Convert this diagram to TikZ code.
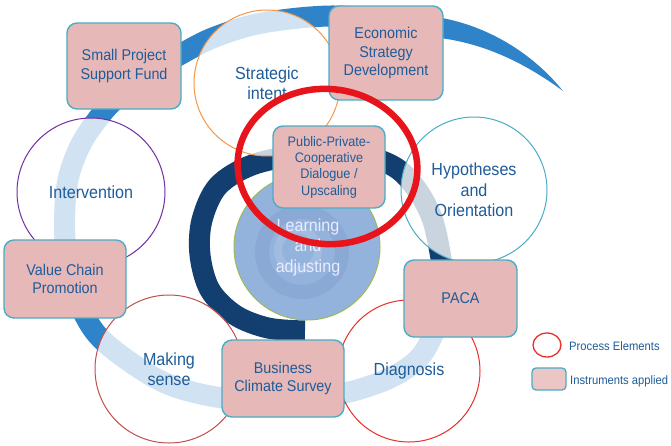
\documentclass[tikz,border=0pt]{standalone}
\usepackage{fontspec}
\setmainfont{Liberation Sans}[FakeStretch=0.92]
\usetikzlibrary{shapes.geometric}
\definecolor{bandblue}{HTML}{2F84C9}
\definecolor{navyband}{HTML}{123F70}
\definecolor{boxfill}{HTML}{E6B8B7}
\definecolor{boxline}{HTML}{4BACC6}
\definecolor{txtblue}{HTML}{1F5C99}
\definecolor{orangeline}{HTML}{F79646}
\definecolor{tealline}{HTML}{4BACC6}
\definecolor{purpleline}{HTML}{7030A0}
\definecolor{brickline}{HTML}{C0504D}
\definecolor{redline}{HTML}{E8302A}
\definecolor{ringred}{HTML}{E8141B}
\definecolor{coreblue}{HTML}{93B3DC}
\definecolor{coredark}{HTML}{8AAAD5}
\definecolor{corelight}{HTML}{A0BCE1}
\definecolor{coreline}{HTML}{9BBB59}
\begin{document}
\begin{tikzpicture}[x=1pt,y=-1pt,
  procfont/.style={font=\fontsize{17.5}{20.5}\selectfont},
  process/.style={circle, draw, line width=1pt, fill=white, fill opacity=0.78,
    text opacity=1, text=txtblue, inner sep=0pt, align=center, procfont},
  instrument/.style={rectangle, rounded corners=10pt, draw=boxline, line width=1.4pt,
    fill=boxfill, text=txtblue, inner sep=0pt, align=center,
    font=\fontsize{15.6}{18.5}\selectfont},
  band/.style={line width=21pt, line cap=butt, line join=round},
  legendtext/.style={anchor=west, inner sep=0pt, text=txtblue,
    font=\fontsize{12.2}{14}\selectfont},
]
\useasboundingbox (0,0) rectangle (671,445);
\fill[white] (0,0) rectangle (671,445);

% outer spiral band with its tapering tip
\draw[bandblue, band] plot[smooth, tension=0.55] coordinates {
  (425,26) (400,21) (330,16) (262,23) (215,37) (183,53) (150,73) (120,95)
  (100,116) (80,146) (67,185) (65,240) (74,290) (95,332) (130,362) (170,385)
  (223,398) (290,401) (345,393) (390,378) (420,357) (437,325) (446,290)};
\fill[bandblue] (425,15.5) .. controls (480,21) and (530,50) .. (563,91)
  .. controls (525,63) and (480,40) .. (425,36.5) -- cycle;

% inner dark ring of the spiral
\draw[navyband, band] plot[smooth, tension=0.55] coordinates {
  (446,294) (441,258) (432,218) (415,187) (393,166) (355,154) (300,155)
  (252,165) (218,186) (202,220) (200,255) (210,290) (235,315) (268,328) (305,331)};

% centre: learning and adjusting, with a soft swirl
\node[circle, minimum size=146pt, inner sep=0pt, fill=coreblue, draw=coreline,
  line width=1pt] (core) at (307,247) {};
\draw[coredark, line width=14pt] (302,252) circle (40);
\draw[corelight, line width=8pt] (298,250) circle (20);
\node[text=white!92!blue, align=center, procfont] (corelbl) at (308,247)
  {Learning\\and\\adjusting};

% process elements
\node[process, draw=orangeline, minimum size=146pt] (strat) at (267,83) {Strategic\\intent};
\node[process, draw=tealline, minimum size=146pt] (hypo) at (474,190) {Hypotheses\\and\\Orientation};
\node[process, draw=purpleline, minimum size=148pt] (interv) at (91,192) {Intervention};
\node[process, draw=brickline, minimum size=148pt] (sense) at (169,369) {Making\\sense};
\node[process, draw=redline, minimum size=142pt] (diag) at (409,371) {Diagnosis};

% instruments applied
\node[instrument, minimum width=114pt, minimum height=86pt] (spf) at (124,66) {Small Project\\Support Fund};
\node[instrument, minimum width=114pt, minimum height=94pt] (esd) at (386,53) {Economic\\Strategy\\Development};
\node[instrument, minimum width=112pt, minimum height=82pt,
  font=\fontsize{13.8}{16.3}\selectfont] (ppp) at (329,167)
  {Public-Private-\\Cooperative\\Dialogue /\\Upscaling};
\node[instrument, minimum width=122pt, minimum height=78pt] (vcp) at (65,279) {Value Chain\\Promotion};
\node[instrument, minimum width=122pt, minimum height=77pt] (bcs) at (283,378.5) {Business\\Climate Survey};
\node[instrument, minimum width=113pt, minimum height=77pt] (paca) at (460.5,298.5) {PACA};

% highlight ring
\node[ellipse, draw=ringred, line width=6.5pt, minimum width=180pt,
  minimum height=155pt, inner sep=0pt, rotate=-6] (focus) at (327.5,166.5) {};

% legend
\node[ellipse, draw=redline, line width=1.3pt, minimum width=28pt,
  minimum height=24pt, inner sep=0pt] (legproc) at (547,345) {};
\node[legendtext] (legproctxt) at (569,346) {Process Elements};
\node[rectangle, rounded corners=4pt, draw=boxline, line width=1.3pt,
  fill=boxfill!80!white, minimum width=34pt, minimum height=22pt,
  inner sep=0pt] (leginst) at (549,379) {};
\node[legendtext] (leginsttxt) at (570,381) {Instruments applied};
\end{tikzpicture}
\end{document}
